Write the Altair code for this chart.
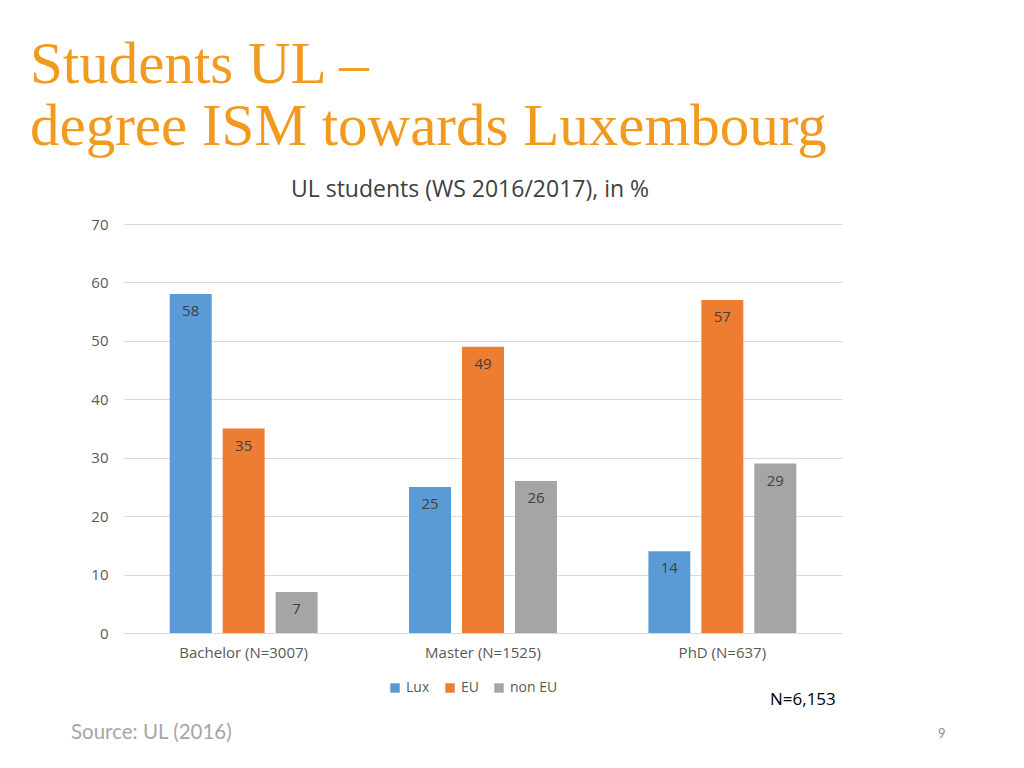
import altair as alt
import pandas as pd

categories = ["Bachelor (N=3007)", "Master (N=1525)", "PhD (N=637)"]
groups = ["Lux", "EU", "non EU"]
lux = [58, 25, 14]
eu = [35, 49, 57]
non_eu = [7, 26, 29]
colors = ["#5B9BD5", "#ED7D31", "#A5A5A5"]

rows = []
for g, vals in zip(groups, [lux, eu, non_eu]):
    for c, v in zip(categories, vals):
        rows.append({"category": c, "group": g, "value": v})
df = pd.DataFrame(rows)

SANS = "Open Sans"
OX, OY = 124, 224  # plot origin on the page (incl. 8px margin)

x = alt.X("category:N", sort=categories, title=None,
          scale=alt.Scale(paddingInner=0.382, paddingOuter=0.191),
          axis=alt.Axis(labelAngle=0, labelFont=SANS, labelFontSize=15, labelColor="#595959",
                        labelPadding=12, ticks=False, domain=False, grid=False))
xo = alt.XOffset("group:N", sort=groups, scale=alt.Scale(paddingInner=0.2075, paddingOuter=0))
y = alt.Y("value:Q", title=None,
          scale=alt.Scale(domain=[0, 70], nice=False),
          axis=alt.Axis(values=[0, 10, 20, 30, 40, 50, 60, 70], labelFont=SANS, labelFontSize=15,
                        labelColor="#595959", labelPadding=16, ticks=False, domain=False,
                        gridColor="#D9D9D9", gridWidth=1))
color = alt.Color("group:N", sort=groups, title=None,
                  scale=alt.Scale(domain=groups, range=colors),
                  legend=alt.Legend(orient="none", legendX=264, legendY=457, direction="horizontal",
                                    symbolType="square", symbolSize=90, symbolStrokeWidth=0,
                                    labelFont=SANS, labelFontSize=14, labelColor="#595959",
                                    columnPadding=13, labelOffset=4))

bars = alt.Chart(df).mark_bar().encode(x=x, xOffset=xo, y=y, color=color)
labels = alt.Chart(df).mark_text(baseline="middle", dy=17, font=SANS, fontSize=15,
                                 color="#404040").encode(
    x=alt.X("category:N", sort=categories), xOffset=alt.XOffset("group:N", sort=groups),
    y="value:Q", text="value:Q")


def txt(s, px, py, size, col, font=SANS, align="left", weight="normal"):
    return alt.Chart(pd.DataFrame({"t": [s]})).mark_text(
        align=align, baseline="alphabetic", font=font, fontSize=size, color=col,
        fontWeight=weight).encode(
        x=alt.value(px - OX), y=alt.value(py - OY), text="t:N")


title1 = txt("Students UL \u2013", 30, 83, 59, "#F29A1E", font="Liberation Serif")
title2 = txt("degree ISM towards Luxembourg", 30, 145, 59, "#F29A1E", font="Liberation Serif")
ctitle = txt("UL students (WS 2016/2017), in %", 470, 197, 23, "#404040", align="center")
ntext = txt("N=6,153", 770, 705, 17, "#000000")
source = txt("Source: UL (2016)", 71, 739, 20.5, "#A6A6A6", font="Lato")
page = txt("9", 938, 738, 13, "#8C8C8C", font="Lato")

chart = alt.layer(bars, labels, title1, title2, ctitle, ntext, source, page).properties(
    width=718, height=409,
    background="white",
    autosize=alt.AutoSizeParams(type="none"),
    padding={"left": OX - 8, "top": OY - 8, "right": 1016 - OX - 718, "bottom": 760 - OY - 409},
).configure_view(stroke=None)

chart.save("out.html", embed_options={"renderer": "svg", "actions": False})
